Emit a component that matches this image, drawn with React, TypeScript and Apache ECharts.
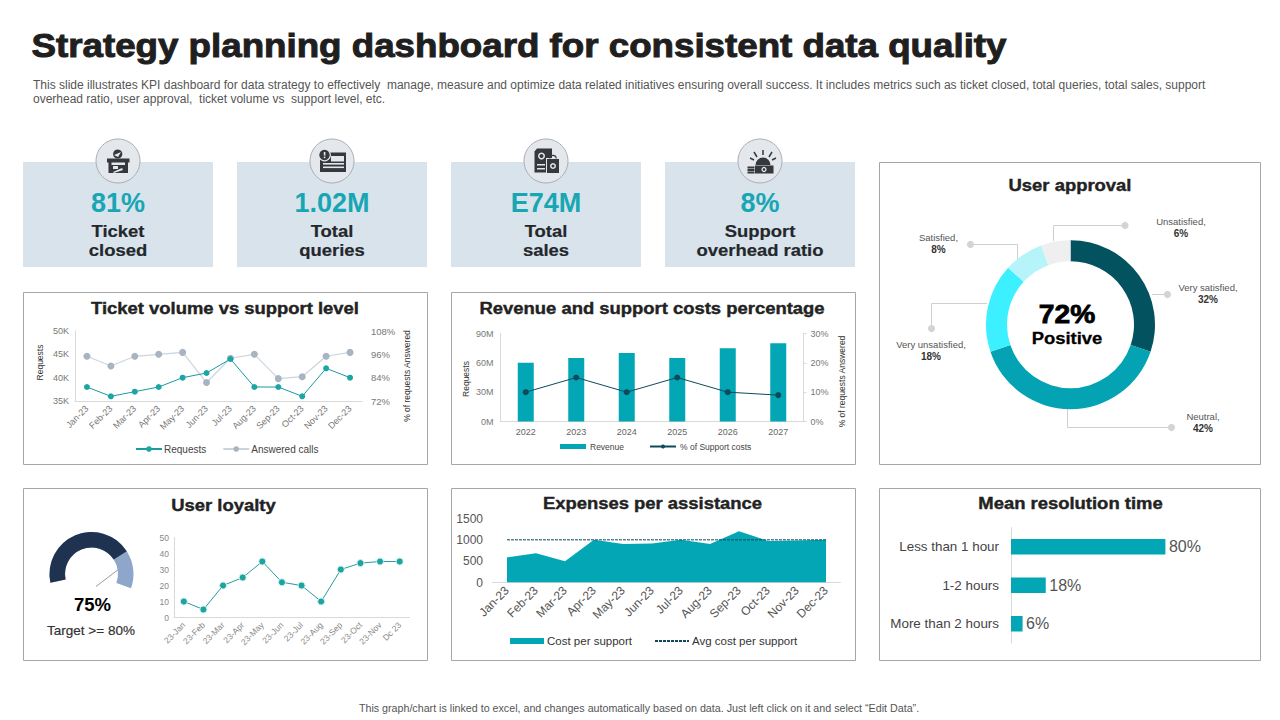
import React, { useEffect, useRef } from "react";
import * as echarts from "echarts";

const FONT = "'Liberation Sans', Arial, sans-serif";
const TEAL = "#03A6B5";

const months = ["Jan-23","Feb-23","Mar-23","Apr-23","May-23","Jun-23","Jul-23","Aug-23","Sep-23","Oct-23","Nov-23","Dec-23"];
const requests = [38,36,37,38,40,41,44,38,38,36,42,40];
const answered = [95,90,95,96,97,81.5,94,96,83.5,84.5,95,97];

const years = ["2022","2023","2024","2025","2026","2027"];
const revenue = [60,65,70,65,75,80];
const supportCost = [10,15,10,15,10,9];

const approvalNames = ["Very satisfied","Neutral","Very unsatisfied","Satisfied","Unsatisfied"];
const approvalValues = [32,42,18,8,6];
const approvalColors = ["#02535F","#03A3B3","#3DF0FF","#B6F4FA","#EFEFEF"];

const loyaltyScore = 75;
const loyaltyMonths = ["23-Jan","23-Feb","23-Mar","23-Apr","23-May","23-Jun","23-Jul","23-Aug","23-Sep","23-Oct","23-Nov","Dc 23"];
const loyalty = [10,5,20,25,35,22,20,10,30,34,35,35];

const costPerSupport = [590,685,500,1000,905,915,1000,900,1200,975,985,1000];
const avgCost = [1000,1000,1000,1000,1000,1000,1000,1000,1000,1000,1000,1000];

const resolutionNames = ["Less than 1 hour","1-2 hours","More than 2 hours"];
const resolutionValues = [80,18,6];

const kpis = [
  { value: "81%", label: ["Ticket", "closed"] },
  { value: "1.02M", label: ["Total", "queries"] },
  { value: "E74M", label: ["Total", "sales"] },
  { value: "8%", label: ["Support", "overhead ratio"] },
];

const text = (s: string, x: number, y: number, size: number, fill: string, extra: any = {}, el: any = {}) => ({
  type: "text", x, y, silent: true, ...el,
  style: { text: s, fontFamily: FONT, fontSize: size, fill, align: "center", verticalAlign: "middle", ...extra },
});
const bold = (s: string, x: number, y: number, size: number, fill = "#222222", sw = 0.4, scaleX = 1.085) =>
  text(s, x, y, size, fill, { fontWeight: "bold", stroke: fill, lineWidth: sw }, { scaleX });

const rect = (x: number, y: number, w: number, h: number, fill: string) =>
  ({ type: "rect", silent: true, shape: { x, y, width: w, height: h }, style: { fill } });
const circ = (cx: number, cy: number, r: number, fill: string) =>
  ({ type: "circle", silent: true, shape: { cx, cy, r }, style: { fill } });
const poly = (points: number[][], fill: string) =>
  ({ type: "polygon", silent: true, shape: { points }, style: { fill } });
const seg = (x1: number, y1: number, x2: number, y2: number, stroke: string, lineWidth = 1) =>
  ({ type: "line", silent: true, shape: { x1, y1, x2, y2 }, style: { stroke, lineWidth } });
const pline = (points: number[][]) =>
  ({ type: "polyline", silent: true, shape: { points }, style: { stroke: "#CFCFCF", lineWidth: 1, fill: "none" } });
const panel = (x: number, y: number, w: number, h: number) =>
  ({ type: "rect", silent: true, shape: { x, y, width: w, height: h }, style: { fill: "none", stroke: "#A6A6A6", lineWidth: 1 } });

const INK = "#35393E";
const icons = [
  // ticket booth
  [circ(117.7,154,4.6,INK), poly([[114,155],[121,152],[118,157]],"#E4E8EC"),
   rect(107,158.5,22.5,4,INK), rect(108.5,162,3,11,INK), rect(125,162,3,11,INK), rect(111,165,14,8,INK),
   rect(113,166,5,3,"#E4E8EC"), poly([[113,172],[122,168],[123,170],[114,173]],"#E4E8EC")],
  // monitor and question bubble
  [rect(320,152.5,26,19.5,INK), rect(331,156,13,5.5,"#E4E8EC"), rect(323,163,21,1.6,"#E4E8EC"), rect(323,166.5,21,1.6,"#E4E8EC"),
   circ(324.5,155,6.4,"#E4E8EC"), circ(324.5,155,5.2,INK), rect(323.8,152,1.6,3.6,"#E4E8EC"), rect(323.8,156.6,1.6,1.6,"#E4E8EC")],
  // invoice and bag
  [poly([[537,148.5],[552,148.5],[552,172.5],[534.5,172.5],[534.5,151.5]],INK),
   rect(537,164,8,1.5,"#E4E8EC"), rect(537,168,8,1.5,"#E4E8EC"), circ(541.5,156,3.5,"#E4E8EC"), circ(541.5,156,2,INK),
   rect(546,158,13.5,15.5,"#E4E8EC"), rect(547,159,12,14,INK), circ(553,166,3,"#E4E8EC"), circ(553,166,1.5,INK),
   { type: "arc", silent: true, shape: { cx: 553, cy: 158.5, r: 3.2, startAngle: Math.PI, endAngle: 0 }, style: { stroke: INK, lineWidth: 1.2, fill: "none" } }],
  // coins, note and dome
  [{ type: "sector", silent: true, shape: { cx: 763, cy: 165, r: 7.5, r0: 0, startAngle: Math.PI, endAngle: 0 }, style: { fill: INK } },
   seg(763,150,763,155,INK,1.5), seg(754,152,757,157,INK,1.5), seg(772,152,769,157,INK,1.5), seg(750,158,754,160,INK,1.5), seg(776,158,772,160,INK,1.5),
   rect(755,165.5,18.5,8,INK), circ(764,169.5,2.6,"#E4E8EC"), circ(764,169.5,1.3,INK),
   rect(747.5,166.5,7,2,INK), rect(747.5,169,7,2,INK), rect(747.5,171.5,7,2,INK)],
];

const cardX = [23, 237, 451, 665];

const leaderPaths = [
  [[1152,294.5],[1167.5,294.5]],
  [[1067.5,409],[1067.5,427.5],[1171.5,427.5]],
  [[987,303.5],[931.5,303.5],[931.5,328.5]],
  [[1017.5,259],[1017.5,244.5],[970.5,244.5]],
  [[1053.5,241],[1053.5,225.5],[1125,225.5]],
];
const labelSpots = [[1208,293.5],[1203,422.5],[931,350.5],[938.5,243],[1181,227.5]];

const graphics: any[] = [
  bold("Strategy planning dashboard for consistent data quality", 519, 44.5, 34, "#1F1F1F", 1, 1.08),
  text("This slide illustrates KPI dashboard for data strategy to effectively  manage, measure and optimize data related initiatives ensuring overall success. It includes metrics such as ticket closed, total queries, total sales, support", 33, 85, 12, "#555555", { align: "left" }),
  text("overhead ratio, user approval,  ticket volume vs  support level, etc.", 33, 99, 12, "#555555", { align: "left" }),
  text("This graph/chart is linked to excel, and changes automatically based on data. Just left click on it and select \u201CEdit Data\u201D.", 639, 707.5, 10.7, "#555555"),

  ...cardX.map((x) => rect(x, 162, 190, 105, "#D9E3EB")),
  ...cardX.map((x) => ({ type: "circle", silent: true, shape: { cx: x + 95, cy: 161, r: 22 }, style: { fill: "#E4E8EC", stroke: "#A9AFB5", lineWidth: 1 } })),
  ...icons.flat(),
  ...kpis.flatMap((k, i) => [
    text(k.value, cardX[i] + 95, 203, 27, "#17A6B3", { fontWeight: "bold" }),
    bold(k.label[0], cardX[i] + 95, 231, 17, "#23272B", 0.2),
    bold(k.label[1], cardX[i] + 95, 250, 17, "#23272B", 0.2),
  ]),

  panel(23.5,292.5,404,172), panel(451.5,292.5,404,172), panel(879.5,162.5,381,302),
  panel(23.5,488.5,404,172), panel(451.5,488.5,404,172), panel(879.5,488.5,381,172),

  bold("Ticket volume vs support level", 225, 308, 17),
  bold("Revenue and support costs percentage", 652, 308, 17),
  bold("User approval", 1070, 185, 17),
  bold("User loyalty", 223.5, 505, 17),
  bold("Expenses per assistance", 652.5, 503, 17),
  bold("Mean resolution time", 1070.5, 503, 17),

  text("Requests", 39.5, 362.5, 8.5, "#333333", {}, { rotation: Math.PI / 2 }),
  text("% of requests Answered", 406.5, 376, 8.5, "#333333", {}, { rotation: Math.PI / 2 }),
  text("Requests", 465.5, 379, 8.5, "#333333", {}, { rotation: Math.PI / 2 }),
  text("% of requests Answered", 841.5, 381.5, 8.5, "#333333", {}, { rotation: Math.PI / 2 }),

  ...leaderPaths.map((p) => pline(p)),
  ...leaderPaths.map((p) => circ(p[p.length - 1][0], p[p.length - 1][1], 3.6, "#D4D4D4")),
  bold("72%", 1067, 314, 26, "#000000", 0.8),
  bold("Positive", 1067, 338, 17, "#000000", 0.3),

  seg(96,586.5,119,569,"#9A9A9A",1),
  text("Target >= 80%", 91, 630.5, 13.5, "#333333", { stroke: "#333333", lineWidth: 0.2 }),
];

const axisLine = { lineStyle: { color: "#D9D9D9", width: 1 } };
const hiddenSplit = { show: false };
const tick = (size: number, color = "#777777", extra: any = {}) => ({ fontFamily: FONT, fontSize: size, color, ...extra });
const legendText = (size: number, color = "#444444", pad = 0) => ({ fontFamily: FONT, fontSize: size, color, padding: [0, 0, 0, pad] });

const option: any = {
  animation: false,
  backgroundColor: "#FFFFFF",
  textStyle: { fontFamily: FONT },
  graphic: { elements: graphics },
  legend: [
    { left: 135, top: 444, padding: 0, itemWidth: 26, itemHeight: 7, itemGap: 16, textStyle: legendText(10, "#444444", -3), data: ["Requests", "Answered calls"] },
    { left: 560, top: 442, padding: 0, itemWidth: 26, itemHeight: 5, itemGap: 25, textStyle: legendText(8.5, "#444444", -1), data: [{ name: "Revenue", icon: "rect" }, "% of Support costs"] },
    { left: 510, top: 635, padding: 0, itemWidth: 34, itemHeight: 6, itemGap: 22, textStyle: legendText(11.5, "#333333", -2), data: [{ name: "Cost per support", icon: "rect" }, { name: "Avg cost per support", itemStyle: { opacity: 0 } }] },
  ],
  grid: [
    { left: 75, top: 331, width: 287, height: 70 },
    { left: 500.5, top: 333.5, width: 303, height: 88 },
    { left: 174, top: 537.5, width: 235.5, height: 80 },
    { left: 492.5, top: 518.5, width: 348, height: 64 },
    { left: 1011, top: 527.5, width: 193, height: 115.5 },
  ],
  xAxis: [
    { gridIndex: 0, type: "category", data: months, axisLine, axisTick: { show: false }, axisLabel: tick(9, "#777777", { rotate: 45, interval: 0, margin: 6 }) },
    { gridIndex: 1, type: "category", data: years, axisLine, axisTick: { show: false }, axisLabel: tick(9, "#666666", { interval: 0, margin: 6 }) },
    { gridIndex: 2, type: "category", data: loyaltyMonths, axisLine, axisTick: { show: false }, axisLabel: tick(8.5, "#888888", { rotate: 45, interval: 0, margin: 6 }) },
    { gridIndex: 3, type: "category", data: months, axisLine, axisTick: { show: false }, axisLabel: tick(12, "#555555", { rotate: 45, interval: 0, margin: 6 }) },
    { gridIndex: 4, type: "value", min: 0, max: 100, show: false, splitLine: hiddenSplit },
  ],
  yAxis: [
    { gridIndex: 0, type: "value", min: 35, max: 50, interval: 5, axisLine: { show: true, ...axisLine }, axisTick: { show: false }, splitLine: hiddenSplit, axisLabel: { ...tick(9), formatter: "{value}K", margin: 6 } },
    { gridIndex: 0, type: "value", position: "right", min: 72, max: 108, interval: 12, axisLine: { show: false }, axisTick: { show: false }, splitLine: hiddenSplit, axisLabel: { ...tick(9.5), formatter: "{value}%", margin: 9 } },
    { gridIndex: 1, type: "value", min: 0, max: 90, interval: 30, axisLine: { show: true, ...axisLine }, axisTick: { show: false }, splitLine: hiddenSplit, axisLabel: { ...tick(9), formatter: "{value}M", margin: 7 } },
    { gridIndex: 1, type: "value", position: "right", min: 0, max: 30, interval: 10, axisLine: { show: true, ...axisLine }, axisTick: { show: true, length: 3, lineStyle: { color: "#D9D9D9" } }, splitLine: hiddenSplit, axisLabel: { ...tick(9), formatter: "{value}%", margin: 7 } },
    { gridIndex: 2, type: "value", min: 0, max: 50, interval: 10, axisLine: { show: true, ...axisLine }, axisTick: { show: false }, splitLine: hiddenSplit, axisLabel: { ...tick(8.5, "#888888"), margin: 5 } },
    { gridIndex: 3, type: "value", min: 0, max: 1500, interval: 500, axisLine: { show: false }, axisTick: { show: false }, splitLine: hiddenSplit, axisLabel: { ...tick(12, "#555555"), margin: 9.5, formatter: (v: number) => String(v) } },
    { gridIndex: 4, type: "category", inverse: true, data: resolutionNames, axisLine: { show: true, ...axisLine }, axisTick: { show: false }, axisLabel: { ...tick(13.4, "#444444"), margin: 12 } },
  ],
  series: [
    { name: "Requests", type: "line", xAxisIndex: 0, yAxisIndex: 0, data: requests, symbol: "circle", symbolSize: 6, z: 4,
      lineStyle: { color: "#1B9AA0", width: 1 }, itemStyle: { color: "#1BA5A5" } },
    { name: "Answered calls", type: "line", xAxisIndex: 0, yAxisIndex: 1, data: answered, symbol: "circle", symbolSize: 7, z: 3,
      lineStyle: { color: "#CBD5DC", width: 1.2 }, itemStyle: { color: "#A9B4C2" } },

    { name: "Revenue", type: "bar", xAxisIndex: 1, yAxisIndex: 2, data: revenue, barWidth: 16, itemStyle: { color: TEAL } },
    { name: "% of Support costs", type: "line", xAxisIndex: 1, yAxisIndex: 3, data: supportCost, symbol: "circle", symbolSize: 6, z: 4,
      lineStyle: { color: "#0E4A5A", width: 1 }, itemStyle: { color: "#0E4A5A" } },

    { name: "Approval", type: "pie", center: [1070.5, 324.7], radius: [63.5, 84.5], startAngle: 90, clockwise: true, silent: true,
      data: approvalNames.map((name, i) => ({ name, value: approvalValues[i], itemStyle: { color: approvalColors[i] } })),
      labelLine: { show: false },
      label: { show: true, position: "outside", formatter: "{n|{b},}\n{v|{c}%}", fontFamily: FONT,
        rich: { n: { fontFamily: FONT, fontSize: 9.5, color: "#555555", lineHeight: 12, align: "center" },
                v: { fontFamily: FONT, fontSize: 10, fontWeight: "bold", color: "#333333", lineHeight: 12, align: "center" } } },
      labelLayout: (p: any) => ({ x: labelSpots[p.dataIndex][0], y: labelSpots[p.dataIndex][1], align: "center", verticalAlign: "middle" }),
    },

    { name: "Loyalty score", type: "gauge", center: [91.5, 574], radius: 42, startAngle: 192, endAngle: -20, min: 0, max: 100,
      data: [{ value: loyaltyScore }], silent: true,
      axisLine: { lineStyle: { width: 15.5, color: [[1, "#8FA6CB"]] } },
      progress: { show: true, width: 15.5, itemStyle: { color: "#1F3350" } },
      pointer: { show: false }, axisTick: { show: false }, splitLine: { show: false }, axisLabel: { show: false }, title: { show: false },
      detail: { show: true, formatter: "{value}%", offsetCenter: [1, 30], fontFamily: FONT, fontSize: 18.5, fontWeight: "bold", color: "#000000" },
    },
    { name: "Loyalty", type: "line", xAxisIndex: 2, yAxisIndex: 4, data: loyalty, symbol: "circle", symbolSize: 7,
      lineStyle: { color: "#2A9CA0", width: 1 }, itemStyle: { color: "#1FA39F", borderColor: "#C9F3F3", borderWidth: 1 } },

    { name: "Cost per support", type: "line", xAxisIndex: 3, yAxisIndex: 5, data: costPerSupport, symbol: "none",
      lineStyle: { width: 0, color: TEAL }, itemStyle: { color: TEAL }, areaStyle: { color: TEAL, opacity: 1 } },
    { name: "Avg cost per support", type: "line", xAxisIndex: 3, yAxisIndex: 5, data: avgCost, symbol: "none", z: 4,
      lineStyle: { color: "#0E4A5A", width: 1, type: [3, 1] }, itemStyle: { color: "#0E4A5A" } },

    { name: "Resolution", type: "bar", xAxisIndex: 4, yAxisIndex: 6, data: resolutionValues, barWidth: 15.5,
      itemStyle: { color: TEAL },
      label: { show: true, position: "right", distance: 3.5, formatter: "{c}%", fontFamily: FONT, fontSize: 16, color: "#555555" } },
  ],
};

export default function App() {
  const ref = useRef<HTMLDivElement>(null);
  useEffect(() => {
    const chart = echarts.init(ref.current!, undefined, { renderer: "svg" });
    chart.setOption(option);
    return () => chart.dispose();
  }, []);
  return <div ref={ref} style={{ position: "fixed", left: 0, top: 0, width: 1280, height: 720, background: "#fff" }} />;
}
